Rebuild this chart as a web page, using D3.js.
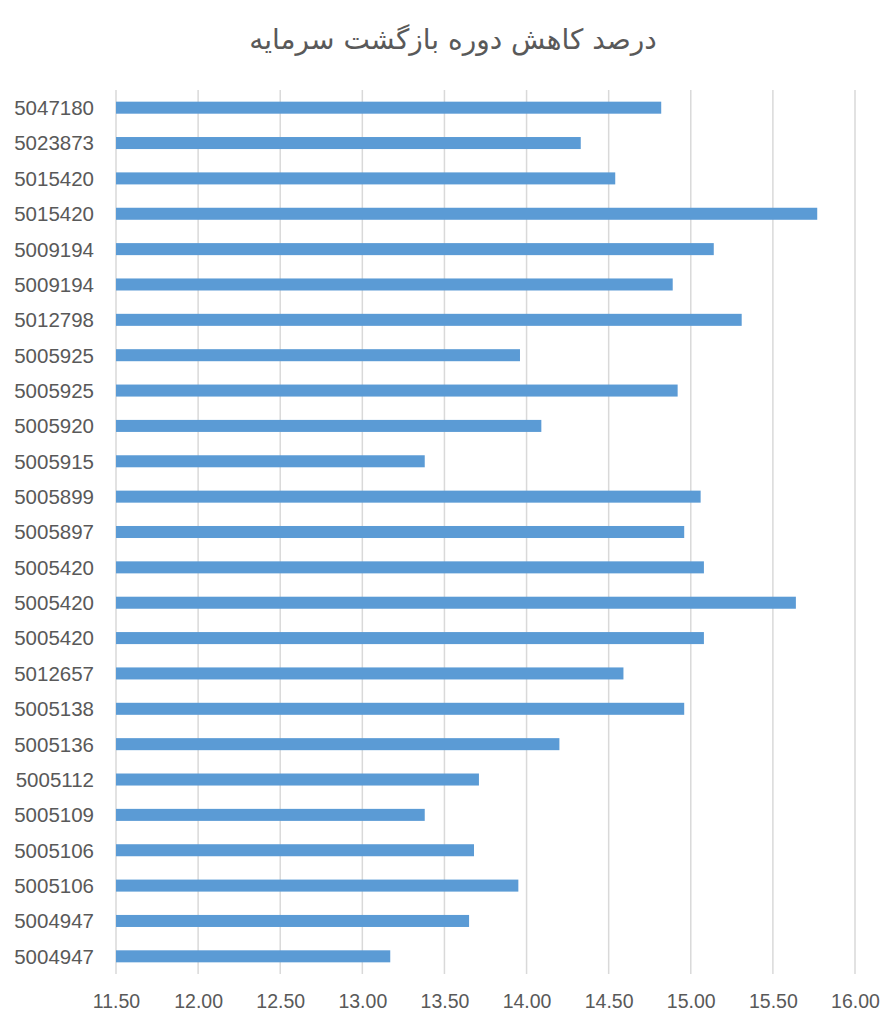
<!DOCTYPE html>
<html>
<head>
<meta charset="utf-8">
<script src="https://cdn.jsdelivr.net/npm/d3@7"></script>
<style>
  body { margin: 0; background: #fff; }
</style>
</head>
<body>
<div id="chart"></div>
<script>
// chart values, top to bottom as in the picture
const categories = [
  "5047180", "5023873", "5015420", "5015420", "5009194", "5009194", "5012798",
  "5005925", "5005925", "5005920", "5005915", "5005899", "5005897", "5005420",
  "5005420", "5005420", "5012657", "5005138", "5005136", "5005112", "5005109",
  "5005106", "5005106", "5004947", "5004947"
];
const values = [
  14.82, 14.33, 14.54, 15.77, 15.14, 14.89, 15.31,
  13.96, 14.92, 14.09, 13.38, 15.06, 14.96, 15.08,
  15.64, 15.08, 14.59, 14.96, 14.20, 13.71, 13.38,
  13.68, 13.95, 13.65, 13.17
];
const xTicks = [11.5, 12, 12.5, 13, 13.5, 14, 14.5, 15, 15.5, 16];
const title = "درصد کاهش دوره بازگشت سرمایه";

const width = 893, height = 1024;
const margin = { top: 90, right: 38, bottom: 50, left: 116 };

const svg = d3.select("#chart").append("svg")
  .attr("width", width)
  .attr("height", height);

const x = d3.scaleLinear()
  .domain([11.5, 16])
  .range([margin.left, width - margin.right]);

const y = d3.scaleBand()
  .domain(d3.range(categories.length))
  .range([margin.top, height - margin.bottom])
  .paddingInner(0.66)
  .paddingOuter(0.33);

// gridlines
svg.append("g")
  .selectAll("line")
  .data(xTicks)
  .join("line")
  .attr("x1", d => x(d))
  .attr("x2", d => x(d))
  .attr("y1", margin.top)
  .attr("y2", height - margin.bottom)
  .attr("stroke", "#d9d9d9")
  .attr("stroke-width", 1.5);

// bars
svg.append("g")
  .selectAll("rect")
  .data(values)
  .join("rect")
  .attr("x", x(11.5))
  .attr("y", (d, i) => y(i))
  .attr("width", d => x(d) - x(11.5))
  .attr("height", y.bandwidth())
  .attr("fill", "#5b9bd5");

// y labels
svg.append("g")
  .selectAll("text")
  .data(categories)
  .join("text")
  .attr("x", 94)
  .attr("y", (d, i) => y(i) + y.bandwidth() / 2)
  .attr("dy", "0.36em")
  .attr("text-anchor", "end")
  .attr("font-family", "Liberation Sans, Arial, sans-serif")
  .attr("font-size", 20.5)
  .attr("fill", "#595959")
  .text(d => d);

// x axis labels
const xAxis = d3.axisBottom(x)
  .tickValues(xTicks)
  .tickFormat(d3.format(".2f"))
  .tickSize(0)
  .tickPadding(20);

svg.append("g")
  .attr("transform", `translate(0,${height - margin.bottom})`)
  .call(xAxis)
  .call(g => g.select(".domain").remove())
  .call(g => g.selectAll("text")
    .attr("font-family", "Liberation Sans, Arial, sans-serif")
    .attr("font-size", 19.5)
    .attr("fill", "#595959"));

// title
svg.append("text")
  .attr("x", 453)
  .attr("y", 49)
  .attr("text-anchor", "middle")
  .attr("direction", "rtl")
  .attr("font-family", "DejaVu Sans, sans-serif")
  .attr("font-size", 28)
  .attr("fill", "#595959")
  .text(title);
</script>
</body>
</html>
